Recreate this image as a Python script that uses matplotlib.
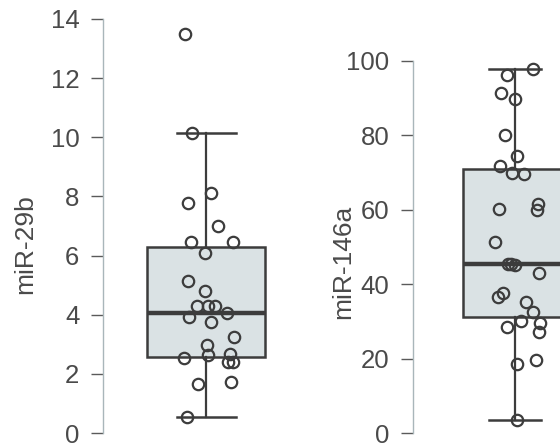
import matplotlib
matplotlib.use("Agg")
import matplotlib.pyplot as plt

plt.rcParams['font.family'] = ['Liberation Sans', 'DejaVu Sans']

# ---- data ----
labels = ["miR-29b", "miR-146a"]

mir29b_vals = [13.5, 10.13, 7.77, 8.1, 7.0, 6.45, 6.45, 6.1, 5.14, 4.8, 4.3, 4.3, 4.3,
               3.92, 4.05, 3.74, 3.24, 2.96, 2.65, 2.53, 2.66, 2.4, 2.4, 1.66, 1.72, 0.54]
mir29b_jit = [-0.18, -0.12, -0.15, 0.04, 0.10, -0.13, 0.23, -0.01, -0.15, -0.01, -0.08, 0.02, 0.08,
              -0.14, 0.18, 0.04, 0.24, 0.01, 0.02, -0.19, 0.20, 0.23, 0.19, -0.07, 0.21, -0.16]
mir29b_stats = dict(med=4.05, q1=2.57, q3=6.28, whislo=0.54, whishi=10.13)

mir146a_vals = [97.8, 96.2, 91.4, 89.8, 80.1, 74.5, 71.8, 69.9, 69.6, 60.2, 61.6, 60.0, 51.3,
                45.4, 45.2, 45.5, 43.0, 37.6, 36.6, 35.3, 32.4, 30.0, 28.6, 29.7, 27.2, 18.5, 19.6, 3.5]
mir146a_jit = [0.17, -0.08, -0.13, 0.0, -0.10, 0.02, -0.14, -0.03, 0.09, -0.15, 0.22, 0.21, -0.19,
               -0.07, 0.0, -0.04, 0.23, -0.12, -0.16, 0.11, 0.17, 0.06, -0.08, 0.24, 0.23, 0.02, 0.20, 0.02]
mir146a_stats = dict(med=45.4, q1=31.2, q3=71.0, whislo=3.5, whishi=97.8)

y_ticks_29b = [0, 2, 4, 6, 8, 10, 12, 14]
y_ticks_146a = [0, 20, 40, 60, 80, 100]

# ---- style ----
W, H = 560, 448
dark = '#3c3c3c'
box_fill = '#dae2e4'
spine_col = '#a9b6ba'
tick_col = '#5a5a5a'
text_col = '#4a4a4a'
FS = 18.5

fig = plt.figure(figsize=(W / 100, H / 100), dpi=100)


def px_axes(left, right, top, bottom):
    return fig.add_axes([left / W, (H - bottom) / H, (right - left) / W, (bottom - top) / H])


def draw_panel(ax, stats, vals, jit, yticks, xlim, label, label_x, label_y):
    st = dict(stats)
    st['fliers'] = []
    ax.bxp([st], positions=[0], widths=[1.0], capwidths=[0.5], showfliers=False,
           patch_artist=True,
           boxprops=dict(facecolor=box_fill, edgecolor=dark, linewidth=1.8),
           medianprops=dict(color=dark, linewidth=3.2),
           whiskerprops=dict(color=dark, linewidth=1.6),
           capprops=dict(color=dark, linewidth=1.8))
    ax.plot(jit, vals, linestyle='none', marker='o', markersize=8.2,
            markerfacecolor='none', markeredgecolor=dark, markeredgewidth=1.6,
            clip_on=False, zorder=5)
    ax.set_xlim(*xlim)
    ax.set_ylim(yticks[0], yticks[-1])
    ax.set_yticks(yticks)
    ax.set_yticklabels([str(t) for t in yticks])
    ax.set_xticks([])
    for s in ['top', 'right', 'bottom']:
        ax.spines[s].set_visible(False)
    ax.spines['left'].set_color(spine_col)
    ax.spines['left'].set_linewidth(1.0)
    ax.tick_params(axis='y', direction='out', length=8.5, width=1.0, color=tick_col,
                   labelsize=FS, labelcolor=text_col, pad=8.5)
    ax.patch.set_alpha(0)
    fig.text(label_x / W, (H - label_y) / H, label, rotation=90, ha='center', va='center',
             fontsize=FS + 0.5, color=text_col)


# left panel: spine at x=103, box centre 206, box width 118 px
ax1 = px_axes(103, 300, 19, 433)
draw_panel(ax1, mir29b_stats, mir29b_vals, mir29b_jit, y_ticks_29b,
           (-(206 - 103) / 118, (300 - 206) / 118), labels[0], 25, 244)

# right panel: spine at x=413, box centre 515, box width 104 px (runs past the edge)
ax2 = px_axes(413, 640, 61, 433)
draw_panel(ax2, mir146a_stats, mir146a_vals, mir146a_jit, y_ticks_146a,
           (-(515 - 413) / 104, (640 - 515) / 104), labels[1], 343, 262)

fig.savefig("out.png", dpi=100, facecolor='white')
